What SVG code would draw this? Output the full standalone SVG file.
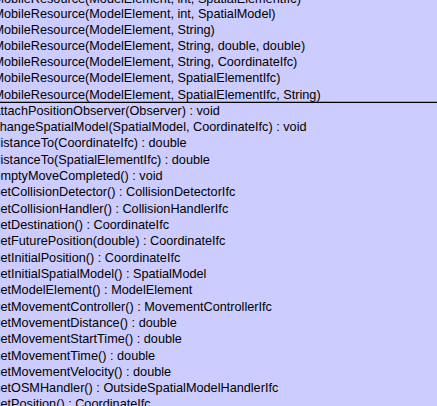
<svg xmlns="http://www.w3.org/2000/svg" width="437" height="406" viewBox="0 0 437 406">
<style>
.bg{fill:#ccccff}
.div{stroke:#000;stroke-width:1.3}
.t{font-family:"Liberation Sans",Arial,sans-serif;font-size:12.7px;fill:#000}
</style>
<g id="MobileResource">
<rect class="bg" x="0" y="0" width="437" height="406"/>
<g class="t">
<text x="-6.6" y="3.3">MobileResource(ModelElement, int, SpatialElementIfc)</text>
<text x="-6.6" y="17.5">MobileResource(ModelElement, int, SpatialModel)</text>
<text x="-6.6" y="33.7">MobileResource(ModelElement, String)</text>
<text x="-6.6" y="49.9">MobileResource(ModelElement, String, double, double)</text>
<text x="-6.6" y="66.1">MobileResource(ModelElement, String, CoordinateIfc)</text>
<text x="-6.6" y="82.3">MobileResource(ModelElement, SpatialElementIfc)</text>
<text x="-6.6" y="98.5">MobileResource(ModelElement, SpatialElementIfc, String)</text>
</g>
<line class="div" x1="0" y1="102.4" x2="437" y2="102.4"/>
<g class="t">
<text x="-6.6" y="114.5">attachPositionObserver(Observer) : void</text>
<text x="-6.6" y="130.8">changeSpatialModel(SpatialModel, CoordinateIfc) : void</text>
<text x="-6.6" y="147.2">distanceTo(CoordinateIfc) : double</text>
<text x="-6.6" y="163.5">distanceTo(SpatialElementIfc) : double</text>
<text x="-6.6" y="179.8">emptyMoveCompleted() : void</text>
<text x="-6.6" y="196.2">getCollisionDetector() : CollisionDetectorIfc</text>
<text x="-6.6" y="212.5">getCollisionHandler() : CollisionHandlerIfc</text>
<text x="-6.6" y="228.8">getDestination() : CoordinateIfc</text>
<text x="-6.6" y="245.1">getFuturePosition(double) : CoordinateIfc</text>
<text x="-6.6" y="261.5">getInitialPosition() : CoordinateIfc</text>
<text x="-6.6" y="277.8">getInitialSpatialModel() : SpatialModel</text>
<text x="-6.6" y="294.1">getModelElement() : ModelElement</text>
<text x="-6.6" y="310.5">getMovementController() : MovementControllerIfc</text>
<text x="-6.6" y="326.8">getMovementDistance() : double</text>
<text x="-6.6" y="343.1">getMovementStartTime() : double</text>
<text x="-6.6" y="359.5">getMovementTime() : double</text>
<text x="-6.6" y="375.8">getMovementVelocity() : double</text>
<text x="-6.6" y="392.1">getOSMHandler() : OutsideSpatialModelHandlerIfc</text>
<text x="-6.6" y="408.4">getPosition() : CoordinateIfc</text>
</g>
</g>
<g id="connectors"/>
</svg>
